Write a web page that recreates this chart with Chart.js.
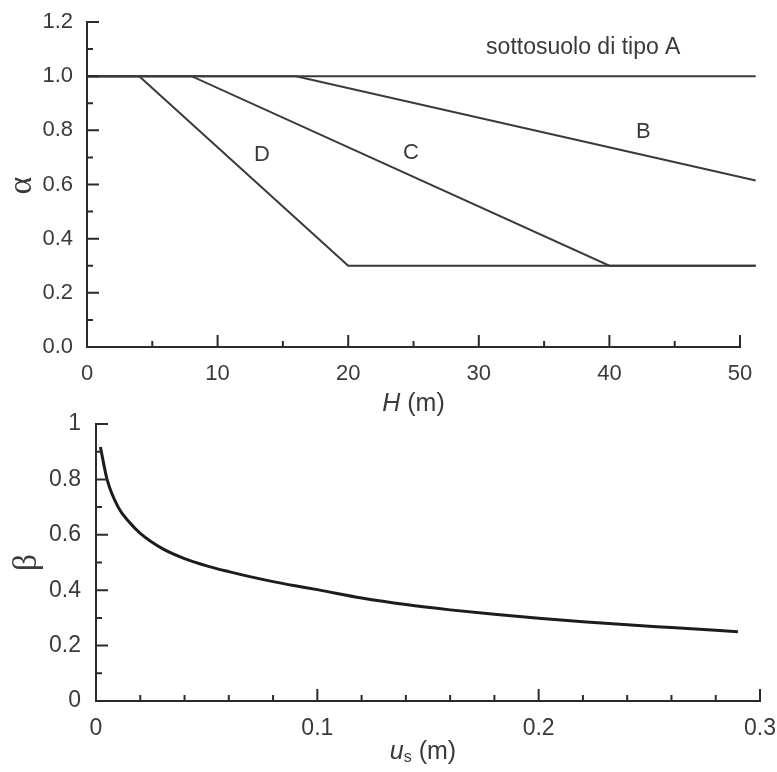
<!DOCTYPE html>
<html>
<head>
<meta charset="utf-8">
<script src="https://cdn.jsdelivr.net/npm/chart.js@4.4.1/dist/chart.umd.min.js"></script>
<style>
  html, body { margin: 0; padding: 0; background: #fff; }
  #wrap { position: relative; width: 777px; height: 772px; overflow: hidden; }
  #topChart { position: absolute; left: 0; top: 0; }
  #bottomChart { position: absolute; left: 0; top: 380px; }
</style>
</head>
<body>
<div id="wrap">
  <canvas id="topChart" width="777" height="420"></canvas>
  <canvas id="bottomChart" width="777" height="392"></canvas>
</div>
<script>
// --- top chart: alpha vs H for soil types A-D
const depthA = [0, 51.2];
const alphaA = [1.0, 1.0];
const depthB = [0, 16, 51.2];
const alphaB = [1.0, 1.0, 0.615];
const depthC = [0, 8, 40, 51.2];
const alphaC = [1.0, 1.0, 0.3, 0.3];
const depthD = [0, 4, 20, 51.2];
const alphaD = [1.0, 1.0, 0.3, 0.3];

const depthTicks = [0, 10, 20, 30, 40, 50];
const depthTickLabels = ['0', '10', '20', '30', '40', '50'];
const alphaTicks = [0, 0.2, 0.4, 0.6, 0.8, 1.0, 1.2];
const alphaTickLabels = ['0.0', '0.2', '0.4', '0.6', '0.8', '1.0', '1.2'];

const curveLabels = ['sottosuolo di tipo A', 'B', 'C', 'D'];
const curveLabelH = [38.0, 42.6, 24.8, 13.4];
const curveLabelAlpha = [1.107, 0.793, 0.716, 0.708];

// --- bottom chart: beta vs us
const displacement = [0.002, 0.005, 0.01, 0.015, 0.02, 0.03, 0.04, 0.05, 0.06, 0.07, 0.08, 0.09,
  0.10, 0.12, 0.14, 0.16, 0.18, 0.20, 0.22, 0.24, 0.26, 0.28, 0.29];
const beta = [0.917, 0.80, 0.70, 0.646, 0.605, 0.550, 0.514, 0.488, 0.467, 0.448, 0.431, 0.416,
  0.402, 0.372, 0.348, 0.329, 0.313, 0.299, 0.286, 0.275, 0.265, 0.255, 0.250];

const dispTicks = [0, 0.1, 0.2, 0.3];
const dispTickLabels = ['0', '0.1', '0.2', '0.3'];
const betaTicks = [0, 0.2, 0.4, 0.6, 0.8, 1];
const betaTickLabels = ['0', '0.2', '0.4', '0.6', '0.8', '1'];

const axisColor = '#2b2b2b';
const textColor = '#3a3a3a';
const sans = '"Liberation Sans", Arial, sans-serif';

const toPoints = (xs, ys) => xs.map((x, i) => ({ x, y: ys[i] }));

function makeScale(min, max, ticks, labels, size, pad, fit) {
  return {
    type: 'linear',
    min, max,
    grid: { display: false, drawTicks: false },
    border: { display: true, color: axisColor, width: 2 },
    afterBuildTicks: s => { s.ticks = ticks.map(v => ({ value: v })); },
    ticks: {
      color: textColor,
      font: { family: sans, size },
      padding: pad,
      maxRotation: 0,
      autoSkip: false,
      callback: (v, i) => labels[i]
    },
    afterFit: s => {
      fit(s);
      s.paddingLeft = 0; s.paddingRight = 0; s.paddingTop = 0; s.paddingBottom = 0;
    }
  };
}

// ticks pointing into the plot, major + minor
function innerTicks(xMinor, xEvery, yMinor, yEvery) {
  return {
    id: 'innerTicks',
    afterDatasetsDraw(chart) {
      const { ctx, chartArea: a, scales: { x, y } } = chart;
      ctx.save();
      ctx.strokeStyle = axisColor;
      ctx.lineWidth = 2;
      ctx.beginPath();
      const nx = Math.round((x.max - x.min) / xMinor);
      for (let i = 0; i <= nx; i++) {
        const px = x.getPixelForValue(x.min + i * xMinor);
        const len = i % xEvery === 0 ? 12 : 6;
        ctx.moveTo(px, a.bottom);
        ctx.lineTo(px, a.bottom - len);
      }
      const ny = Math.round((y.max - y.min) / yMinor);
      for (let i = 0; i <= ny; i++) {
        const py = y.getPixelForValue(y.min + i * yMinor);
        const len = i % yEvery === 0 ? 12 : 6;
        ctx.moveTo(a.left, py);
        ctx.lineTo(a.left + len, py);
      }
      ctx.stroke();
      ctx.restore();
    }
  };
}

function drawRich(ctx, parts, cx, cy) {
  let w = 0;
  parts.forEach(p => { ctx.font = p.font; w += ctx.measureText(p.t).width; });
  let xx = cx - w / 2;
  ctx.textAlign = 'left';
  parts.forEach(p => {
    ctx.font = p.font;
    ctx.fillText(p.t, xx, cy + (p.dy || 0));
    xx += ctx.measureText(p.t).width;
  });
}

function drawRotated(ctx, text, font, cx, cy) {
  ctx.save();
  ctx.translate(cx, cy);
  ctx.rotate(-Math.PI / 2);
  ctx.font = font;
  ctx.textAlign = 'center';
  ctx.textBaseline = 'middle';
  ctx.fillText(text, 0, 0);
  ctx.restore();
}

const topTexts = {
  id: 'topTexts',
  afterDraw(chart) {
    const { ctx, chartArea: a, scales: { x, y } } = chart;
    ctx.save();
    ctx.fillStyle = textColor;
    ctx.textBaseline = 'middle';
    ctx.textAlign = 'center';
    curveLabels.forEach((t, i) => {
      ctx.font = (i === 0 ? '23px ' : '22px ') + sans;
      ctx.fillText(t, x.getPixelForValue(curveLabelH[i]), y.getPixelForValue(curveLabelAlpha[i]));
    });
    drawRich(ctx, [
      { t: 'H', font: 'italic 25px ' + sans },
      { t: ' (m)', font: '25px ' + sans }
    ], (a.left + a.right) / 2, a.bottom + 57);
    drawRotated(ctx, 'α', '34px "Liberation Serif", serif', 22, (a.top + a.bottom) / 2 + 1);
    ctx.restore();
  }
};

const bottomTexts = {
  id: 'bottomTexts',
  afterDraw(chart) {
    const { ctx, chartArea: a } = chart;
    ctx.save();
    ctx.fillStyle = textColor;
    ctx.textBaseline = 'middle';
    drawRich(ctx, [
      { t: 'u', font: 'italic 25px ' + sans },
      { t: 's', font: '16px ' + sans, dy: 6 },
      { t: ' (m)', font: '25px ' + sans }
    ], (a.left + a.right) / 2 - 5, a.bottom + 51);
    drawRotated(ctx, 'β', '34px "Liberation Serif", serif', 27, (a.top + a.bottom) / 2);
    ctx.restore();
  }
};

const lineStyle = { borderColor: '#3a3a3a', borderWidth: 2, pointRadius: 0, tension: 0, clip: false, fill: false };

new Chart(document.getElementById('topChart'), {
  type: 'line',
  data: {
    datasets: [
      { label: 'A', data: toPoints(depthA, alphaA), ...lineStyle },
      { label: 'B', data: toPoints(depthB, alphaB), ...lineStyle },
      { label: 'C', data: toPoints(depthC, alphaC), ...lineStyle },
      { label: 'D', data: toPoints(depthD, alphaD), ...lineStyle }
    ]
  },
  options: {
    responsive: false,
    animation: false,
    layout: { padding: { top: 22, right: 37, left: 0, bottom: 0 } },
    plugins: { legend: { display: false }, tooltip: { enabled: false } },
    scales: {
      x: makeScale(0, 50, depthTicks, depthTickLabels, 22, 14, s => { s.height = 73; }),
      y: makeScale(0, 1.2, alphaTicks, alphaTickLabels, 22, 14, s => { s.width = 87; })
    }
  },
  plugins: [innerTicks(5, 2, 0.1, 2), topTexts]
});

new Chart(document.getElementById('bottomChart'), {
  type: 'line',
  data: {
    datasets: [
      { label: 'beta', data: toPoints(displacement, beta), borderColor: '#1c1c1c', borderWidth: 3,
        pointRadius: 0, cubicInterpolationMode: 'monotone', fill: false }
    ]
  },
  options: {
    responsive: false,
    animation: false,
    layout: { padding: { top: 44, right: 17, left: 0, bottom: 0 } },
    plugins: { legend: { display: false }, tooltip: { enabled: false } },
    scales: {
      x: makeScale(0, 0.3, dispTicks, dispTickLabels, 23, 14, s => { s.height = 71; }),
      y: makeScale(0, 1, betaTicks, betaTickLabels, 23, 15, s => { s.width = 96; })
    }
  },
  plugins: [innerTicks(0.02, 5, 0.1, 2), bottomTexts]
});
</script>
</body>
</html>
